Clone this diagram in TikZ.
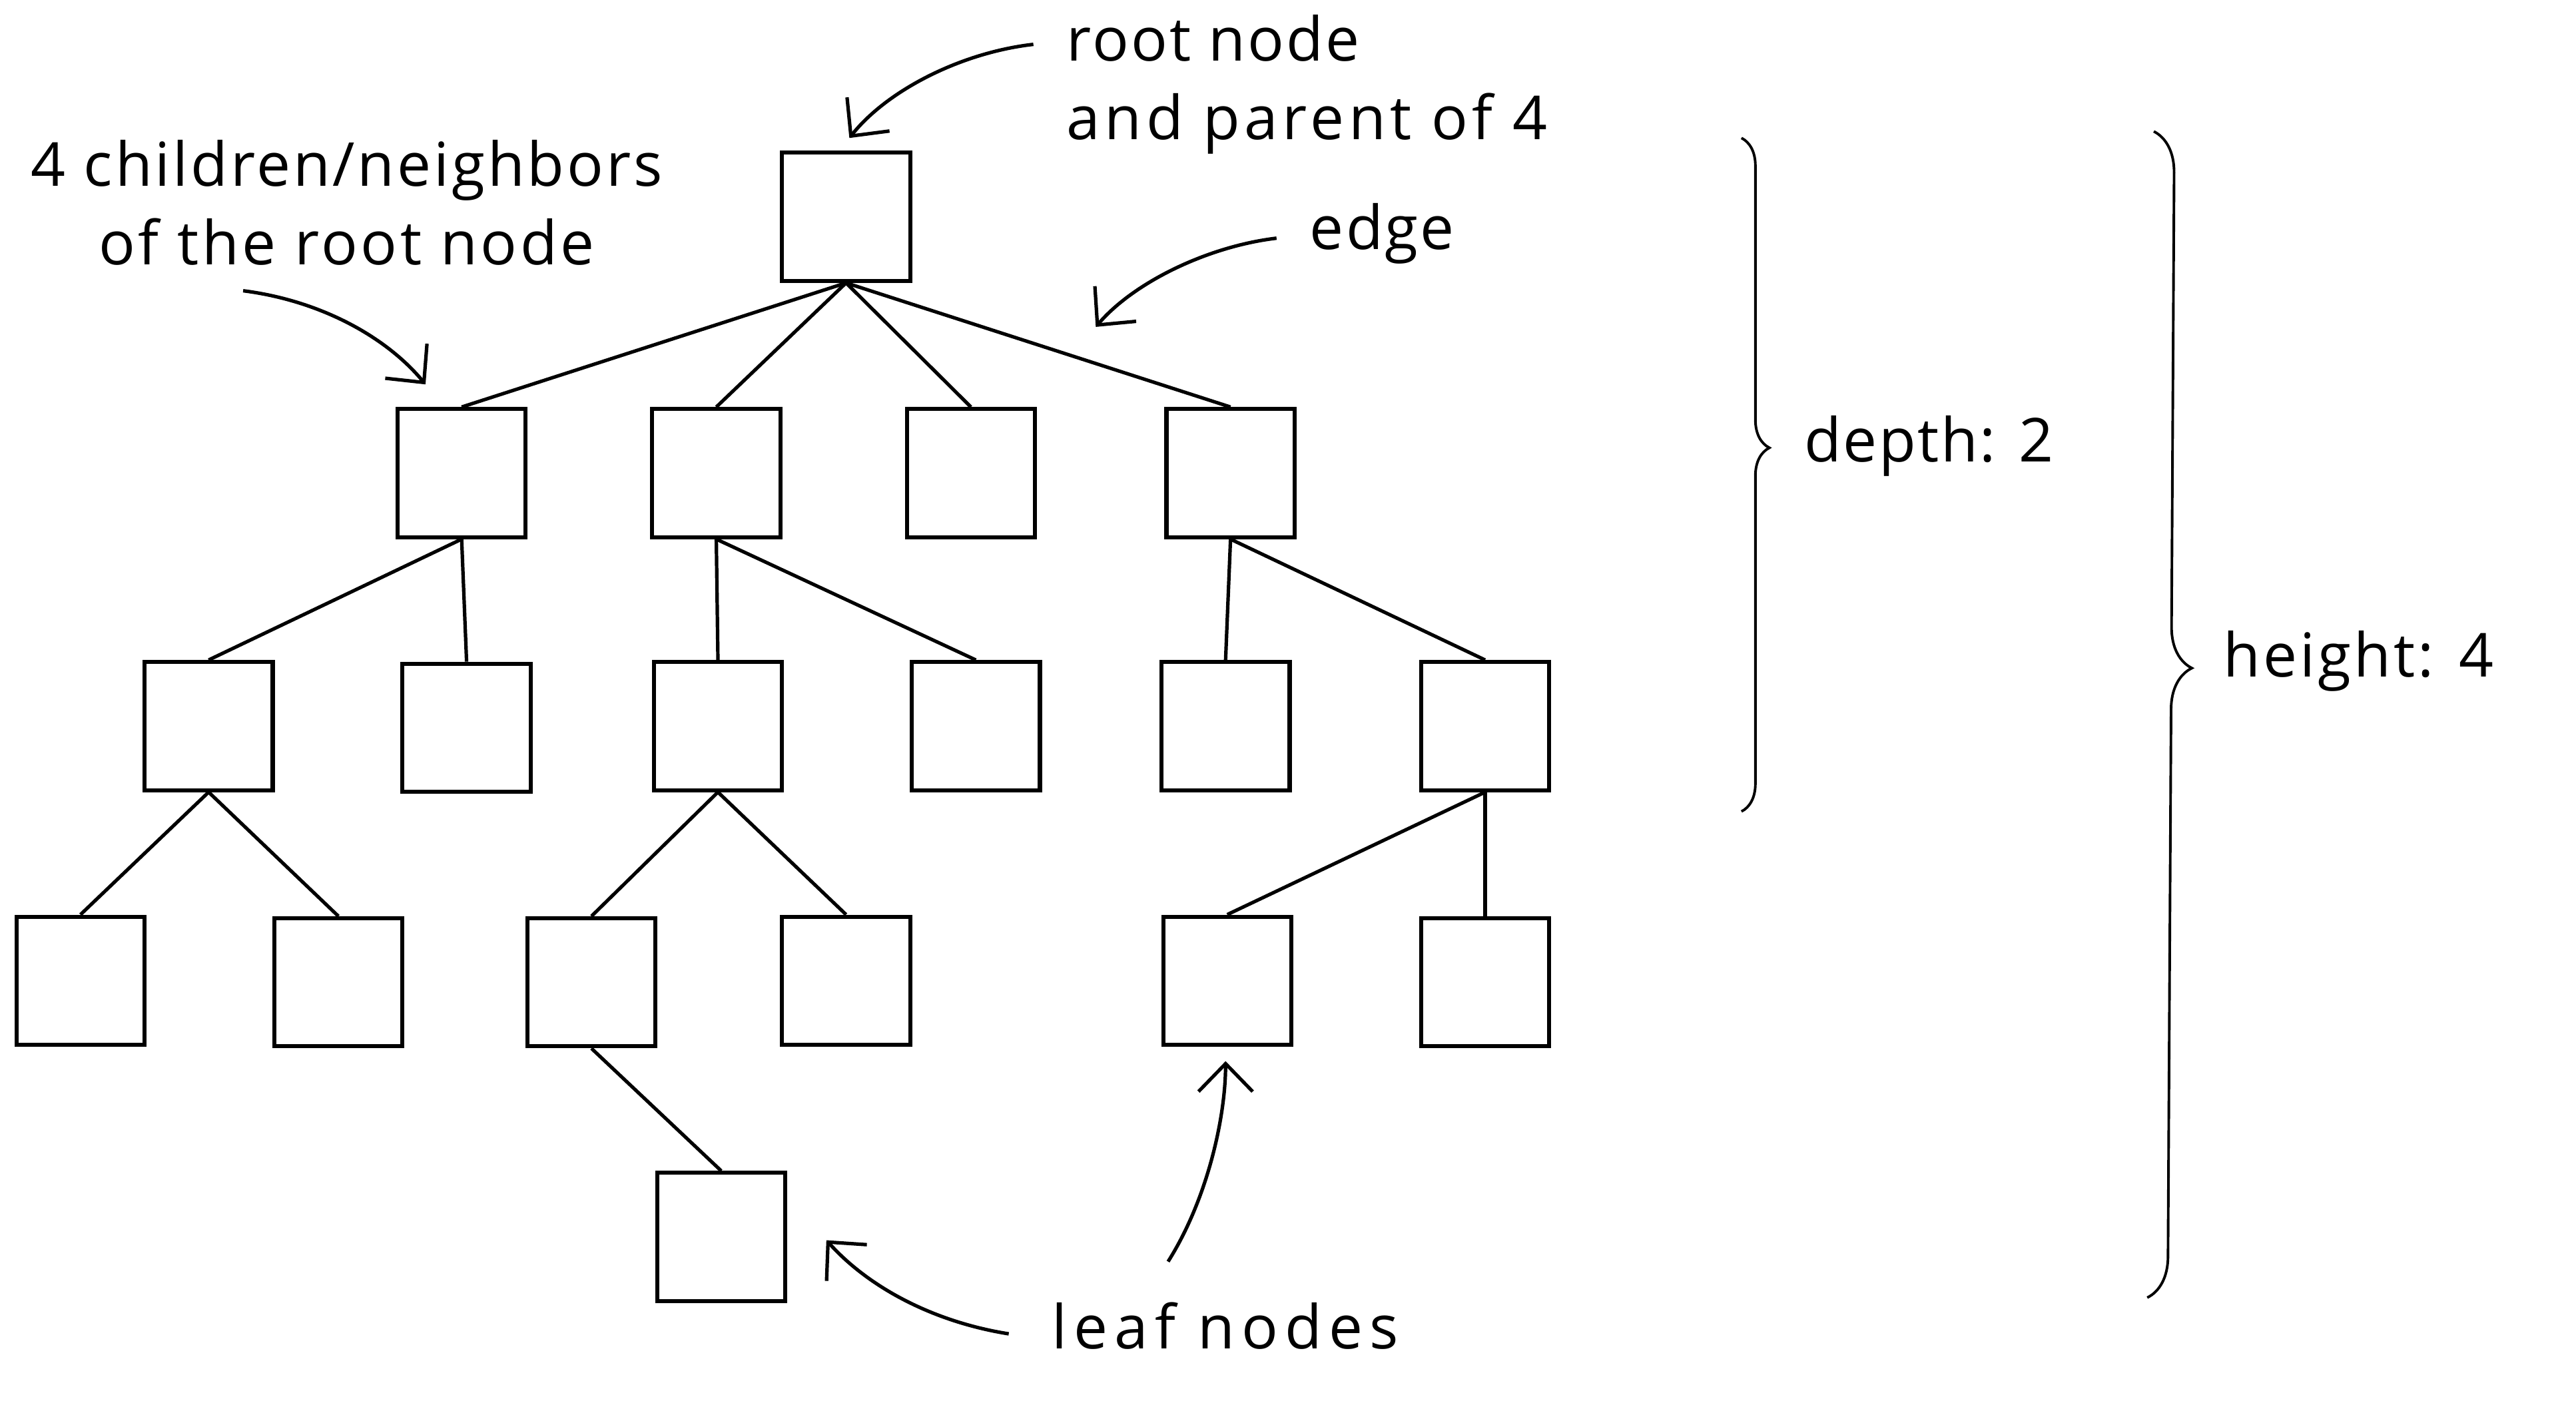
\documentclass[tikz,border=0pt]{standalone}
\usepackage{fontspec}
\setmainfont{Open Sans}
\usetikzlibrary{arrows.meta,decorations.pathreplacing}
\begin{document}
\begin{tikzpicture}[x=0.02cm,y=-0.02cm,
  box/.style={draw, line width=1.4pt, minimum size=1.56cm, inner sep=0pt},
  edge/.style={line width=1.2pt},
  lbl/.style={font=\fontsize{21}{25}\selectfont\addfontfeature{LetterSpace=#1}, inner sep=0pt},
  ptr/.style={line width=1.2pt, -{Straight Barb[length=0.34cm,width=0.66cm]}},
  brc/.style={line width=0.9pt, decorate, decoration={brace, amplitude=#1, aspect=0.46}}]
\useasboundingbox (0,0) rectangle (1568,866);
% tree nodes
\node[box] (r) at (515,132) {};
\node[box] (a1) at (281,288) {};
\node[box] (a2) at (436,288) {};
\node[box] (a3) at (591,288) {};
\node[box] (a4) at (749,288) {};
\node[box] (b1) at (127,442) {};
\node[box] (b2) at (284,443) {};
\node[box] (b3) at (437,442) {};
\node[box] (b4) at (594,442) {};
\node[box] (b5) at (746,442) {};
\node[box] (b6) at (904,442) {};
\node[box] (c1) at (49,597) {};
\node[box] (c2) at (206,598) {};
\node[box] (c3) at (360,598) {};
\node[box] (c4) at (515,597) {};
\node[box] (c5) at (747,597) {};
\node[box] (c6) at (904,598) {};
\node[box] (d1) at (439,753) {};
% edges
\foreach \p/\c in {r/a1,r/a2,r/a3,r/a4,a1/b1,a1/b2,a2/b3,a2/b4,a4/b5,a4/b6,b1/c1,b1/c2,b3/c3,b3/c4,b6/c5,b6/c6,c3/d1}
  \draw[edge] (\p.south) -- (\c.north);
% labels
\node[lbl=3.3, anchor=base west] (t1) at (649,37) {root node};
\node[lbl=7, anchor=base west] (t2) at (649,85) {and parent of 4};
\node[lbl=4.2, anchor=base] (t3) at (211,113.5) {4 children/neighbors};
\node[lbl=4.9, anchor=base] (t4) at (211,161) {of the root node};
\node[lbl=3.4, anchor=base west] (t5) at (797,152) {edge};
\node[lbl=2.7, anchor=base west] (t6) at (1098,281) {depth: 2};
\node[lbl=4.5, anchor=base west] (t7) at (1353,412) {height: 4};
\node[lbl=11, anchor=base west] (t8) at (640,821) {leaf nodes};
% pointer arrows
\coordinate (s1) at (629,27);
\coordinate (e1) at (517,84);
\coordinate (s2) at (148,177);
\coordinate (e2) at (259,234);
\coordinate (s3) at (777,145);
\coordinate (e3) at (667,199);
\coordinate (s4) at (614,812);
\coordinate (e4) at (503,755);
\coordinate (s5) at (711,768);
\coordinate (e5) at (746,646);
\draw[ptr] (s1) .. controls (585,32) and (540,55) .. (e1);
\draw[ptr] (s2) .. controls (195,183) and (235,205) .. (e2);
\draw[ptr] (s3) .. controls (735,150) and (690,172) .. (e3);
\draw[ptr] (s4) .. controls (570,805) and (530,785) .. (e4);
\draw[ptr] (s5) .. controls (735,730) and (746,680) .. (e5);
% braces
\coordinate (bd1) at (1060,84);
\coordinate (bd2) at (1060,494);
\coordinate (bh1) at (1311,80);
\coordinate (bh2) at (1307,790);
\draw[brc=0.34cm] (bd1) -- (bd2);
\draw[brc=0.5cm] (bh1) -- (bh2);
\end{tikzpicture}
\end{document}
